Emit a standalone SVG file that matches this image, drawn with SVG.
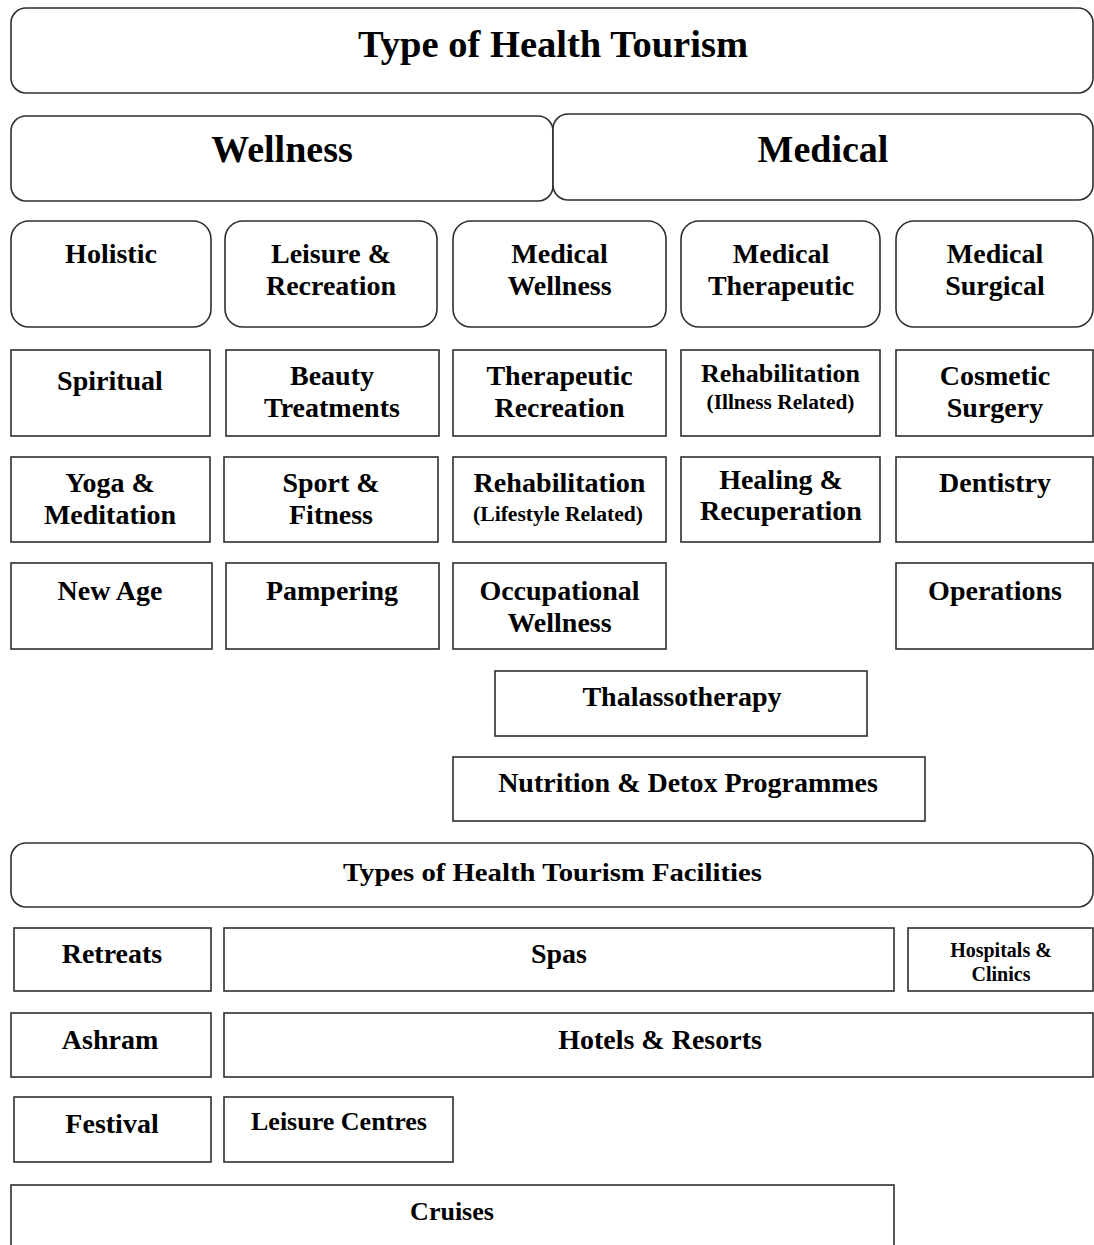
<svg xmlns="http://www.w3.org/2000/svg" width="1094" height="1245" viewBox="0 0 1094 1245">
  <style>
    .box { fill: #ffffff; stroke: #2e2e2e; stroke-width: 1.6; }
    .t { font-family: "Liberation Serif", "Times New Roman", serif; font-weight: bold; fill: #000000; text-anchor: middle; }
    .xl { font-size: 38px; }
    .l { font-size: 28px; }
    .m { font-size: 26px; }
    .s { font-size: 20px; }
  </style>
  <rect width="1094" height="1245" fill="#ffffff"/>

  <g id="connectors"></g>

  <!-- headers -->
  <g id="type-of-health-tourism">
    <rect class="box" x="11" y="8" width="1082" height="85" rx="15"/>
    <text class="t xl" x="553" y="57" textLength="390" lengthAdjust="spacingAndGlyphs">Type of Health Tourism</text>
  </g>
  <g id="wellness">
    <rect class="box" x="11" y="116" width="542" height="85" rx="15"/>
    <text class="t xl" x="282" y="162">Wellness</text>
  </g>
  <g id="medical">
    <rect class="box" x="553" y="114" width="540" height="86" rx="15"/>
    <text class="t xl" x="823" y="162">Medical</text>
  </g>

  <!-- categories -->
  <g id="holistic">
    <rect class="box" x="11" y="221" width="200" height="106" rx="18"/>
    <text class="t l" x="111" y="263">Holistic</text>
  </g>
  <g id="leisure-recreation">
    <rect class="box" x="225" y="221" width="212" height="106" rx="18"/>
    <text class="t l" x="331" y="263">Leisure &amp;</text>
    <text class="t l" x="331" y="295">Recreation</text>
  </g>
  <g id="medical-wellness">
    <rect class="box" x="453" y="221" width="213" height="106" rx="18"/>
    <text class="t l" x="559.5" y="263">Medical</text>
    <text class="t l" x="559.5" y="295">Wellness</text>
  </g>
  <g id="medical-therapeutic">
    <rect class="box" x="681" y="221" width="199" height="106" rx="18"/>
    <text class="t l" x="781" y="263">Medical</text>
    <text class="t l" x="781" y="295">Therapeutic</text>
  </g>
  <g id="medical-surgical">
    <rect class="box" x="896" y="221" width="197" height="106" rx="18"/>
    <text class="t l" x="995" y="263">Medical</text>
    <text class="t l" x="995" y="295">Surgical</text>
  </g>

  <!-- row 1 of sub-types -->
  <g id="spiritual">
    <rect class="box" x="11" y="350" width="199" height="86"/>
    <text class="t l" x="110" y="390">Spiritual</text>
  </g>
  <g id="beauty-treatments">
    <rect class="box" x="226" y="350" width="213" height="86"/>
    <text class="t l" x="332" y="385">Beauty</text>
    <text class="t l" x="332" y="417">Treatments</text>
  </g>
  <g id="therapeutic-recreation">
    <rect class="box" x="453" y="350" width="213" height="86"/>
    <text class="t l" x="559.5" y="385">Therapeutic</text>
    <text class="t l" x="559.5" y="417">Recreation</text>
  </g>
  <g id="rehabilitation-illness">
    <rect class="box" x="681" y="350" width="199" height="86"/>
    <text class="t m" x="780.5" y="382" textLength="159" lengthAdjust="spacingAndGlyphs">Rehabilitation</text>
    <text class="t s" x="780.5" y="409" textLength="148" lengthAdjust="spacingAndGlyphs">(Illness Related)</text>
  </g>
  <g id="cosmetic-surgery">
    <rect class="box" x="896" y="350" width="197" height="86"/>
    <text class="t l" x="995" y="385">Cosmetic</text>
    <text class="t l" x="995" y="417">Surgery</text>
  </g>

  <!-- row 2 of sub-types -->
  <g id="yoga-meditation">
    <rect class="box" x="11" y="457" width="199" height="85"/>
    <text class="t l" x="110" y="492">Yoga &amp;</text>
    <text class="t l" x="110" y="524">Meditation</text>
  </g>
  <g id="sport-fitness">
    <rect class="box" x="224" y="457" width="214" height="85"/>
    <text class="t l" x="331" y="492">Sport &amp;</text>
    <text class="t l" x="331" y="524">Fitness</text>
  </g>
  <g id="rehabilitation-lifestyle">
    <rect class="box" x="453" y="457" width="213" height="85"/>
    <text class="t l" x="559.5" y="492" textLength="172" lengthAdjust="spacingAndGlyphs">Rehabilitation</text>
    <text class="t s" x="558" y="521" textLength="170" lengthAdjust="spacingAndGlyphs">(Lifestyle Related)</text>
  </g>
  <g id="healing-recuperation">
    <rect class="box" x="681" y="457" width="199" height="85"/>
    <text class="t l" x="781" y="489">Healing &amp;</text>
    <text class="t l" x="781" y="520">Recuperation</text>
  </g>
  <g id="dentistry">
    <rect class="box" x="896" y="457" width="197" height="85"/>
    <text class="t l" x="995" y="492">Dentistry</text>
  </g>

  <!-- row 3 of sub-types -->
  <g id="new-age">
    <rect class="box" x="11" y="563" width="201" height="86"/>
    <text class="t l" x="110" y="600">New Age</text>
  </g>
  <g id="pampering">
    <rect class="box" x="226" y="563" width="213" height="86"/>
    <text class="t l" x="332" y="600">Pampering</text>
  </g>
  <g id="occupational-wellness">
    <rect class="box" x="453" y="563" width="213" height="86"/>
    <text class="t l" x="559.5" y="600">Occupational</text>
    <text class="t l" x="559.5" y="632">Wellness</text>
  </g>
  <g id="operations">
    <rect class="box" x="896" y="563" width="197" height="86"/>
    <text class="t l" x="995" y="600">Operations</text>
  </g>

  <!-- wide programmes -->
  <g id="thalassotherapy">
    <rect class="box" x="495" y="671" width="372" height="65"/>
    <text class="t l" x="682" y="706">Thalassotherapy</text>
  </g>
  <g id="nutrition-detox">
    <rect class="box" x="453" y="757" width="472" height="64"/>
    <text class="t l" x="688" y="792">Nutrition &amp; Detox Programmes</text>
  </g>

  <!-- facilities -->
  <g id="facilities">
    <rect class="box" x="11" y="843" width="1082" height="64" rx="15"/>
    <text class="t m" x="552.5" y="881" textLength="419" lengthAdjust="spacingAndGlyphs">Types of Health Tourism Facilities</text>
  </g>
  <g id="retreats">
    <rect class="box" x="14" y="928" width="197" height="63"/>
    <text class="t l" x="112" y="963">Retreats</text>
  </g>
  <g id="spas">
    <rect class="box" x="224" y="928" width="670" height="63"/>
    <text class="t l" x="559" y="963">Spas</text>
  </g>
  <g id="hospitals-clinics">
    <rect class="box" x="908" y="928" width="185" height="63"/>
    <text class="t s" x="1001" y="957">Hospitals &amp;</text>
    <text class="t s" x="1001" y="981">Clinics</text>
  </g>
  <g id="ashram">
    <rect class="box" x="11" y="1013" width="200" height="64"/>
    <text class="t l" x="110" y="1049">Ashram</text>
  </g>
  <g id="hotels-resorts">
    <rect class="box" x="224" y="1013" width="869" height="64"/>
    <text class="t l" x="660" y="1049">Hotels &amp; Resorts</text>
  </g>
  <g id="festival">
    <rect class="box" x="14" y="1097" width="197" height="65"/>
    <text class="t l" x="112" y="1133">Festival</text>
  </g>
  <g id="leisure-centres">
    <rect class="box" x="224" y="1097" width="229" height="65"/>
    <text class="t m" x="339" y="1130">Leisure Centres</text>
  </g>
  <g id="cruises">
    <rect class="box" x="11" y="1185" width="883" height="80"/>
    <text class="t m" x="452" y="1220">Cruises</text>
  </g>
</svg>
